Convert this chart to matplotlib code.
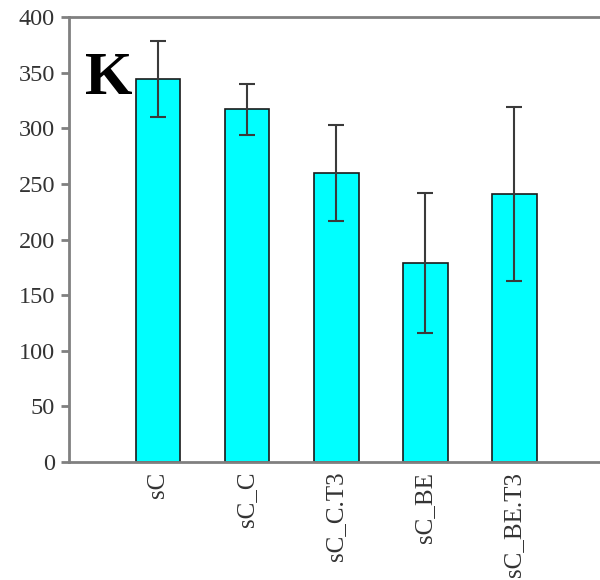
import matplotlib
matplotlib.use("Agg")
import matplotlib.pyplot as plt
import numpy as np

categories = ["sC", "sC_C", "sC_C.T3", "sC_BE", "sC_BE.T3"]
means = [344, 317, 260, 179, 241]
errors = [34, 23, 43, 63, 78]

plt.rcParams['font.family'] = ['Liberation Serif', 'DejaVu Serif']

fig = plt.figure(figsize=(6, 5.8), dpi=100)
ax = fig.add_axes([0.115, 0.2034, 0.885, 0.7673])
x = np.arange(len(categories))
ax.bar(x, means, width=0.5, color='#00FFFF', edgecolor='#1a1a1a', linewidth=1.2, zorder=2)
ax.errorbar(x, means, yerr=errors, fmt='none', ecolor='#3a3a3a', elinewidth=1.5,
            capsize=6, capthick=1.5, zorder=3)
ax.set_xlim(-1.0, 4.96)
ax.set_ylim(0, 400)
ax.set_yticks(np.arange(0, 401, 50))
ax.set_xticks(x)
ax.set_xticklabels(categories, rotation=90, fontsize=18, color='#333333')
ax.tick_params(axis='y', labelsize=17.5, labelcolor='#333333', direction='out', length=6, width=2, color='#808080', pad=4)
ax.tick_params(axis='x', length=0, pad=7)
for s in ['left', 'bottom', 'top']:
    ax.spines[s].set_color('#808080')
    ax.spines[s].set_linewidth(2)
ax.spines['right'].set_visible(False)
ax.text(-0.82, 344, "K", fontsize=44, fontweight='bold', va='center', ha='left', color='black')
fig.savefig("out.png", dpi=100)
